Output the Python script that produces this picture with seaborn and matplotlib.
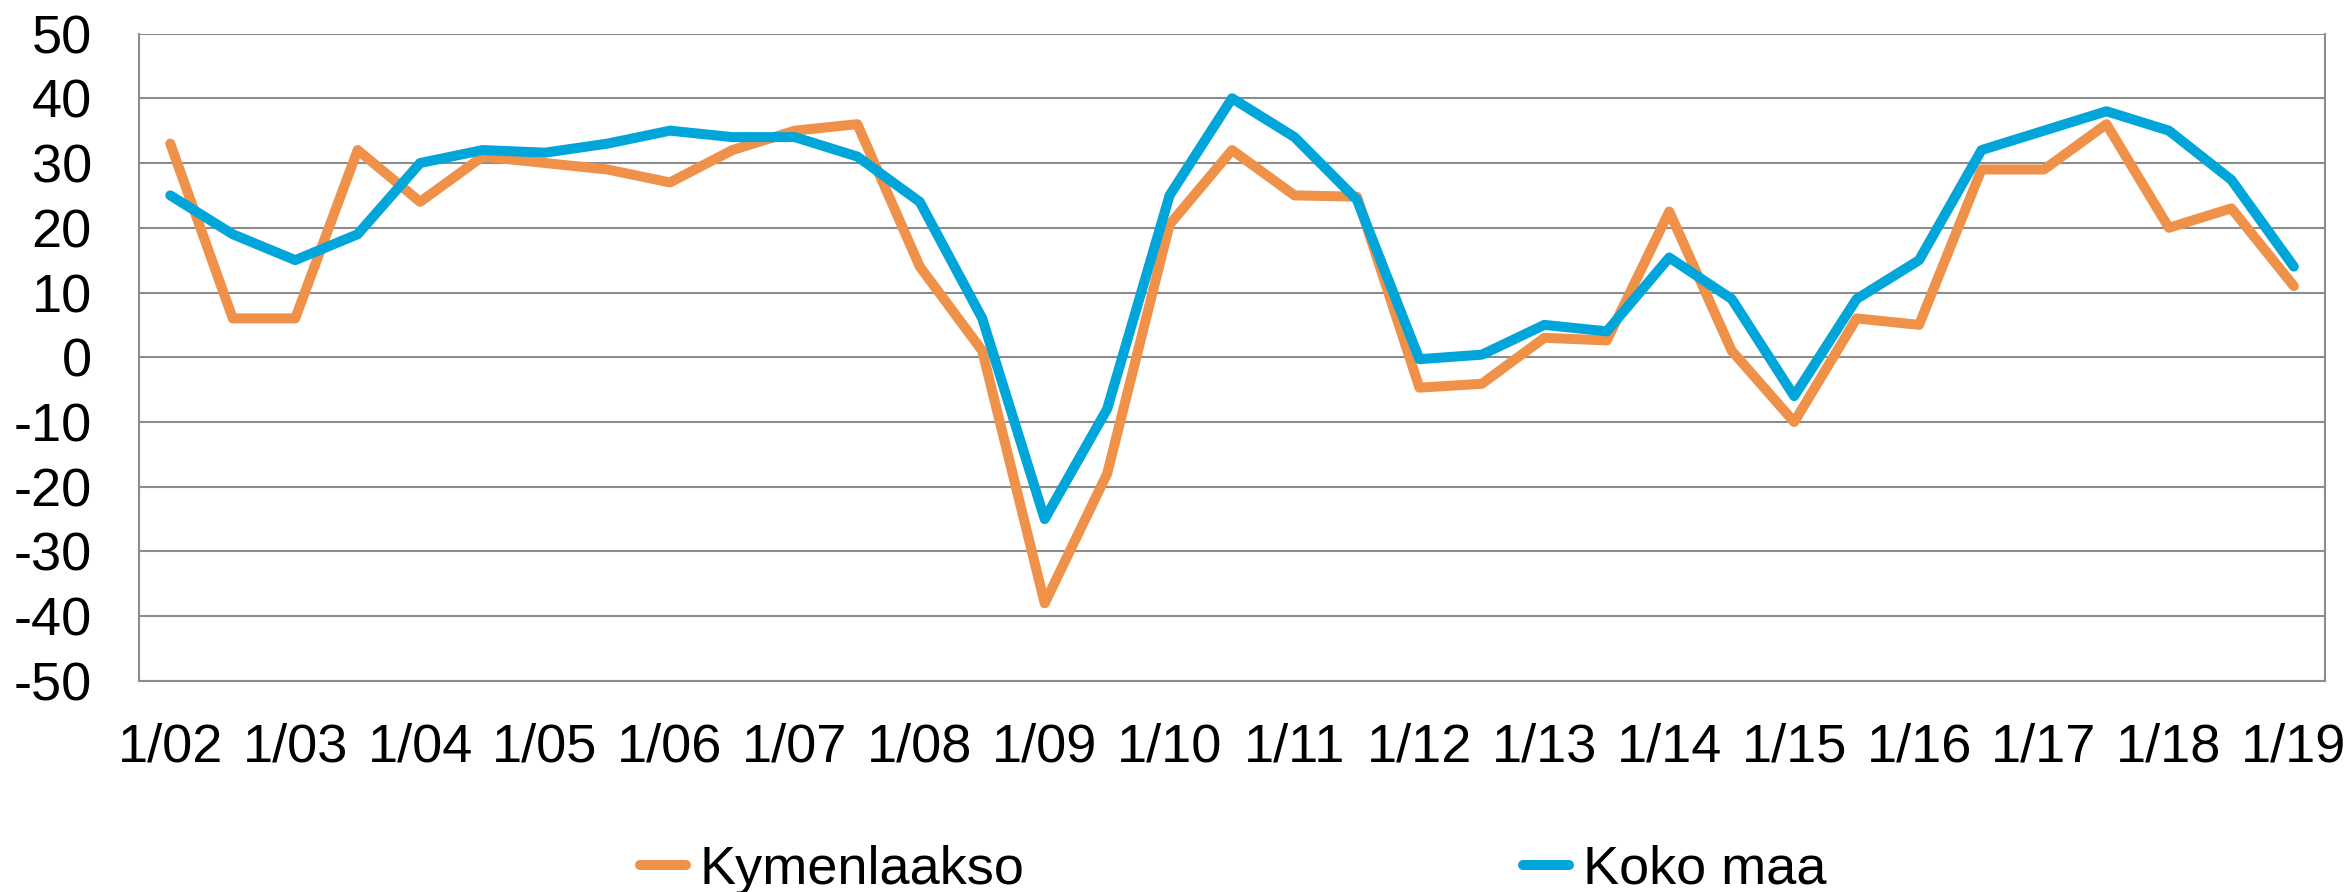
import matplotlib
matplotlib.use("Agg")
import matplotlib.pyplot as plt
import numpy as np
import pandas as pd
import seaborn as sns

# half-year observations 1/02 ... 1/19
kymenlaakso = [33, 6, 6, 32, 24, 31, 30, 29, 27, 32, 35, 36, 14, 1, -38, -18,
               20.5, 32, 25, 24.8, -4.7, -4.1, 3, 2.6, 22.5, 1, -10, 6, 5, 29,
               29, 36, 20, 23, 11]
koko_maa = [25, 19, 15, 19, 30, 32, 31.6, 33, 35, 34, 34, 31, 24, 6, -25, -8,
            25, 40, 34, 24.3, -0.3, 0.4, 5, 4, 15.4, 9, -6, 9, 15, 32, 35, 38,
            35, 27.4, 14]
tick_labels = ['1/02', '1/03', '1/04', '1/05', '1/06', '1/07', '1/08', '1/09',
               '1/10', '1/11', '1/12', '1/13', '1/14', '1/15', '1/16', '1/17',
               '1/18', '1/19']
series_names = ['Kymenlaakso', 'Koko maa']
colors = ['#F0914A', '#00A5DA']

n = len(kymenlaakso)
df = pd.DataFrame({
    'jakso': list(range(n)) * 2,
    'arvo': kymenlaakso + koko_maa,
    'sarja': [series_names[0]] * n + [series_names[1]] * n,
})

sns.set_style("white")
plt.rcParams['font.family'] = ['Liberation Sans', 'DejaVu Sans']
plt.rcParams['axes.unicode_minus'] = False
plt.rcParams['text.color'] = 'black'

fig = plt.figure(figsize=(23.49, 8.92), dpi=100)
ax = fig.add_axes([0.0592, 0.2366, 0.9306, 0.7258])

sns.lineplot(data=df, x='jakso', y='arvo', hue='sarja', palette=colors,
             linewidth=7.2, ax=ax, legend=False, zorder=3,
             solid_capstyle='round', solid_joinstyle='round')

ax.set_xlim(-0.5, n - 0.5)
ax.set_ylim(-50, 50)
ax.set_yticks(np.arange(-50, 51, 10))
ax.set_xticks(np.arange(0, n, 2))
ax.set_xticklabels(tick_labels)
ax.yaxis.grid(True, color='#8C8C8C', linewidth=1.5, zorder=0)
ax.xaxis.grid(False)
ax.tick_params(axis='both', length=0, labelsize=39, colors='black')
ax.tick_params(axis='x', pad=30)
ax.tick_params(axis='y', pad=34)
ax.set_xlabel('')
ax.set_ylabel('')
for side in ['left', 'right', 'bottom']:
    ax.spines[side].set_color('#8C8C8C')
    ax.spines[side].set_linewidth(1.5)
ax.spines['top'].set_visible(False)

handles = [plt.Line2D([], [], color=c, linewidth=7.2, solid_capstyle='round')
           for c in colors]
fig.legend(handles, series_names, loc='center', bbox_to_anchor=(0.525, 0.025),
           ncol=2, frameon=False, fontsize=39, handlelength=0.85,
           handletextpad=0.25, columnspacing=9.2, borderpad=0)

fig.savefig('out.png', dpi=100)
